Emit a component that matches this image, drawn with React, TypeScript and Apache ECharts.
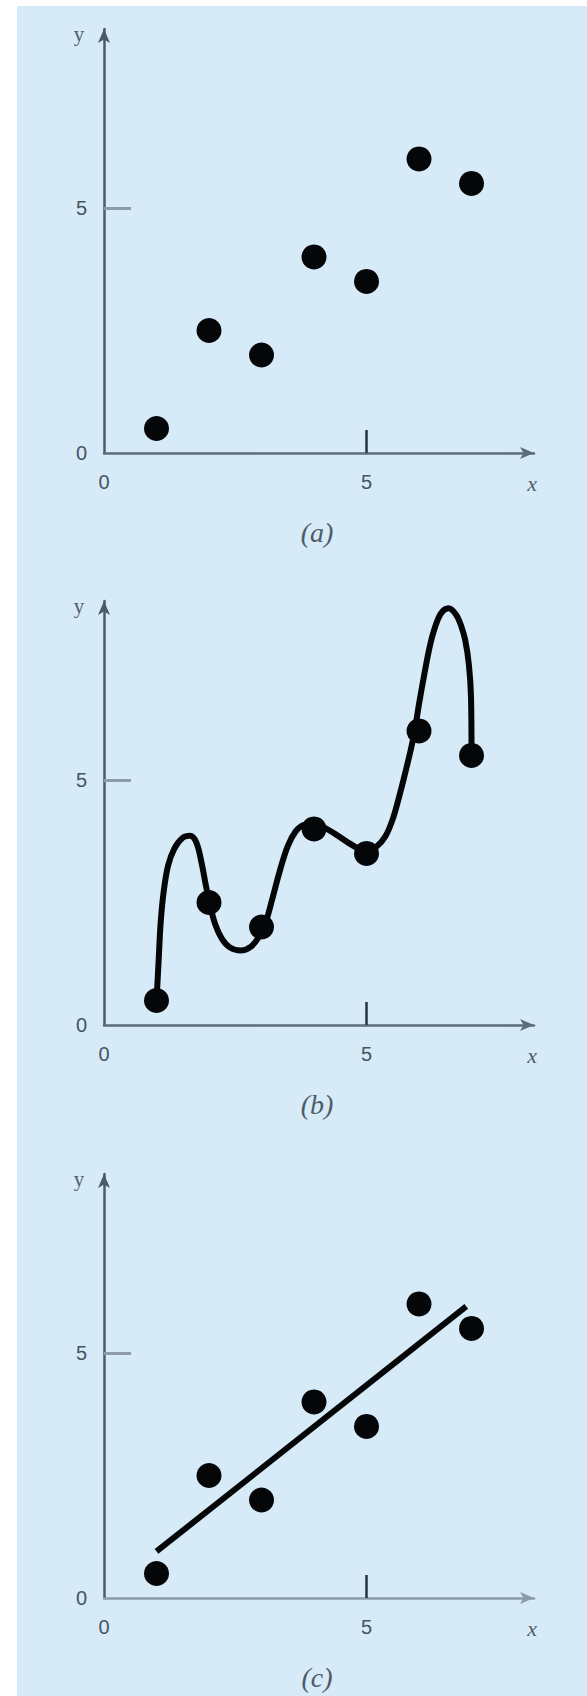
import React, { useEffect, useRef } from "react";
import * as echarts from "echarts";

// Data
const xValues = [1, 2, 3, 4, 5, 6, 7];
const yValues = [0.5, 2.5, 2.0, 4.0, 3.5, 6.0, 5.5];

// Panel (b): interpolating curve
const curveX = [1.0, 1.04, 1.08, 1.14, 1.22, 1.34, 1.5, 1.64, 1.76, 1.86, 1.94, 2.02, 2.12, 2.25, 2.4, 2.6, 2.8, 2.95, 3.08, 3.2, 3.35, 3.5, 3.65, 3.8, 3.95, 4.15, 4.4, 4.65, 4.85, 5.0, 5.2, 5.36, 5.5, 5.62, 5.75, 5.85, 5.92, 6.0, 6.1, 6.2, 6.3, 6.42, 6.56, 6.7, 6.8, 6.88, 6.95, 6.99, 7.0];
const curveY = [0.5, 1.3, 2.1, 2.75, 3.25, 3.6, 3.82, 3.86, 3.72, 3.3, 2.85, 2.45, 2.05, 1.75, 1.58, 1.52, 1.6, 1.8, 2.1, 2.55, 3.15, 3.65, 3.95, 4.08, 4.1, 4.05, 3.9, 3.72, 3.6, 3.55, 3.65, 3.85, 4.2, 4.65, 5.2, 5.65, 6.02, 6.55, 7.15, 7.7, 8.1, 8.4, 8.5, 8.38, 8.15, 7.85, 7.35, 6.7, 5.5];

// Panel (c): straight line
const fitX = [1, 6.9];
const fitY = [0.95, 5.95];

const tickValues = [0, 5];
const panelLabels = ["(a)", "(b)", "(c)"];
const axisNameX = "x";
const axisNameY = "y";

export default function App() {
  const ref = useRef<HTMLDivElement>(null);

  useEffect(() => {
    if (!ref.current) return;
    const chart = echarts.init(ref.current, undefined, { renderer: "svg" });

    const left = 104;
    const gw = 430;
    const gh = 424;
    const tops = [29, 601, 1174];
    const xMax = 8.19;
    const yMax = 8.65;
    const labelColor = "#46545f";
    const xAxisColors = ["#5b6c7a", "#5b6c7a", "#8a9ba9"];
    const yAxisColor = "#4a5a68";
    const ink = "#050607";

    const grids = tops.map((t) => ({ left, top: t, width: gw, height: gh, containLabel: false }));

    const xAxes = tops.map((_, i) => ({
      type: "value",
      gridIndex: i,
      min: 0,
      max: xMax,
      interval: 5,
      axisLine: {
        show: true,
        onZero: false,
        symbol: ["none", "arrow"],
        symbolSize: [9, 14],
        lineStyle: { color: xAxisColors[i], width: 2.5 },
      },
      axisTick: {
        show: true,
        inside: true,
        length: 23,
        customValues: [5],
        lineStyle: { color: "#27333f", width: 2.5 },
      },
      axisLabel: {
        show: true,
        customValues: tickValues,
        margin: 19,
        color: labelColor,
        fontSize: 20,
        fontFamily: "Liberation Sans, Arial, sans-serif",
      },
      splitLine: { show: false },
    }));

    const yAxes = tops.map((_, i) => ({
      type: "value",
      gridIndex: i,
      min: 0,
      max: yMax,
      interval: 5,
      axisLine: {
        show: true,
        onZero: false,
        symbol: ["none", "arrow"],
        symbolSize: [9, 14],
        lineStyle: { color: yAxisColor, width: 2.5 },
      },
      axisTick: {
        show: true,
        inside: true,
        length: 27,
        customValues: [5],
        lineStyle: { color: "#8e9ca8", width: 3 },
      },
      axisLabel: {
        show: true,
        customValues: tickValues,
        margin: 17,
        color: labelColor,
        fontSize: 20,
        fontFamily: "Liberation Sans, Arial, sans-serif",
      },
      splitLine: { show: false },
    }));

    const pts = xValues.map((x, i) => [x, yValues[i]]);
    const curve = curveX.map((x, i) => [x, curveY[i]]);
    const fit = fitX.map((x, i) => [x, fitY[i]]);

    const scatter = (i: number) => ({
      type: "scatter",
      xAxisIndex: i,
      yAxisIndex: i,
      data: pts,
      symbol: "circle",
      symbolSize: 25,
      itemStyle: { color: ink, opacity: 1 },
      z: 5,
    });

    const series: any[] = [
      scatter(0),
      scatter(1),
      {
        type: "line",
        xAxisIndex: 1,
        yAxisIndex: 1,
        data: curve,
        smooth: 0.35,
        showSymbol: false,
        lineStyle: { color: ink, width: 6 },
        clip: false,
        z: 4,
      },
      scatter(2),
      {
        type: "line",
        xAxisIndex: 2,
        yAxisIndex: 2,
        data: fit,
        showSymbol: false,
        lineStyle: { color: ink, width: 6 },
        z: 4,
      },
    ];

    const graphics: any[] = [
      {
        type: "rect",
        left: 17,
        top: 6,
        shape: { x: 0, y: 0, width: 570, height: 1690 },
        style: { fill: "#d6eaf8" },
        z: -10,
        silent: true,
      },
    ];
    tops.forEach((t, i) => {
      const bottom = t + gh;
      graphics.push({
        type: "text",
        x: 317,
        y: bottom + 79,
        style: {
          text: panelLabels[i],
          fill: "#4e5c68",
          font: "italic 28px 'Liberation Serif', 'DejaVu Serif', serif",
          textAlign: "center",
          textVerticalAlign: "middle",
        },
        z: 10,
      });
      graphics.push({
        type: "text",
        x: 532,
        y: bottom + 30,
        style: {
          text: axisNameX,
          fill: "#4e5c68",
          font: "italic 22px 'Liberation Serif', 'DejaVu Serif', serif",
          textAlign: "center",
          textVerticalAlign: "middle",
        },
        z: 10,
      });
      graphics.push({
        type: "text",
        x: 79,
        y: t + 5,
        style: {
          text: axisNameY,
          fill: "#4e5c68",
          font: "21px 'Liberation Serif', 'DejaVu Serif', serif",
          textAlign: "center",
          textVerticalAlign: "middle",
        },
        z: 10,
      });
    });

    chart.setOption({
      animation: false,
      backgroundColor: "#ffffff",
      grid: grids,
      xAxis: xAxes,
      yAxis: yAxes,
      series,
      graphic: graphics,
    });

    return () => chart.dispose();
  }, []);

  return (
    <div
      ref={ref}
      style={{ position: "absolute", left: 0, top: 0, width: 587, height: 1696 }}
    />
  );
}
